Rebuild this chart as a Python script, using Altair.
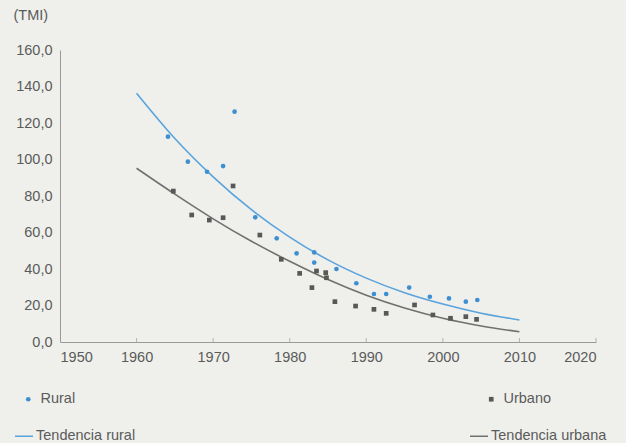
import altair as alt
import pandas as pd

# Tasa de mortalidad infantil (TMI) por área de residencia
rural_year = [1964.1, 1966.7, 1969.2, 1971.3, 1972.8, 1975.5, 1978.3, 1980.9, 1983.2,
              1983.2, 1986.1, 1988.7, 1991.0, 1992.6, 1995.6, 1998.3, 2000.8, 2003.0, 2004.5]
rural_tmi = [112.5, 98.8, 93.3, 96.4, 126.2, 68.3, 56.8, 48.6, 49.1,
             43.5, 40.0, 32.2, 26.3, 26.3, 29.8, 24.8, 23.9, 22.1, 23.0]

urban_year = [1964.8, 1967.2, 1969.5, 1971.3, 1972.6, 1976.1, 1978.9, 1981.3, 1982.9, 1983.5,
              1984.7, 1984.8, 1985.9, 1988.6, 1991.0, 1992.6, 1996.3, 1998.7, 2001.0, 2003.0, 2004.4]
urban_tmi = [82.7, 69.6, 66.8, 68.1, 85.5, 58.6, 45.3, 37.6, 29.8, 38.9,
             38.0, 35.2, 22.1, 19.7, 17.9, 15.7, 20.3, 14.8, 13.0, 13.9, 12.4]

# Curvas de tendencia
trend_year = [1960, 1965, 1970, 1975, 1980, 1985, 1990, 1995, 2000, 2005, 2010]
trend_rural = [136.3, 111.5, 90.5, 72.5, 57.5, 45.0, 35.0, 27.0, 20.8, 15.8, 12.1]
trend_urban = [95.2, 81.0, 67.5, 55.2, 44.2, 34.2, 25.6, 18.6, 13.0, 8.8, 5.6]

x_ticks = [1950, 1960, 1970, 1980, 1990, 2000, 2010, 2020]
y_ticks = [0, 20, 40, 60, 80, 100, 120, 140, 160]

BLUE_PT = "#3d8fd1"
GRAY_PT = "#585858"
BLUE_LN = "#5aa3dc"
GRAY_LN = "#707070"
TEXT = "#5b5b5b"
FONT = "Liberation Sans"

rural = pd.DataFrame({"anio": rural_year, "tmi": rural_tmi, "serie": "Rural"})
urban = pd.DataFrame({"anio": urban_year, "tmi": urban_tmi, "serie": "Urbano"})
trends = pd.DataFrame({
    "anio": trend_year + trend_year,
    "tmi": trend_rural + trend_urban,
    "serie": ["Tendencia rural"] * len(trend_year) + ["Tendencia urbana"] * len(trend_year),
})
ticks = pd.DataFrame({"anio": x_ticks[1:]})

x_scale = alt.Scale(domain=[1950, 2020], nice=False, zero=False)
y_scale = alt.Scale(domain=[0, 160], nice=False)

x_axis = alt.Axis(values=x_ticks, format="d", ticks=False, grid=False, labelPadding=8,
                  labelOverlap=False, domainColor="#9a9a9a", labelColor=TEXT,
                  labelFontSize=14.5, labelFont=FONT, title=None)
y_axis = alt.Axis(values=y_ticks, ticks=False, grid=False, labelPadding=8, labelOverlap=False,
                  labelExpr="replace(format(datum.value, '.1f'), '.', ',')",
                  domainColor="#9a9a9a", labelColor=TEXT, labelFontSize=14.5,
                  labelFont=FONT, title="(TMI)", titleAngle=0, titleAlign="left",
                  titleBaseline="middle", titleX=-47, titleY=-35, titleFontWeight="normal",
                  titleFontSize=14.5, titleColor=TEXT, titleFont=FONT)

X = alt.X("anio:Q", scale=x_scale, axis=x_axis)
Y = alt.Y("tmi:Q", scale=y_scale, axis=y_axis)


def legend_at(x, y, **kw):
    return alt.Legend(orient="none", legendX=x, legendY=y, direction="horizontal",
                      title=None, padding=0, labelFontSize=14.5, labelFontWeight="normal",
                      labelColor=TEXT, labelFont=FONT, **kw)


trend_layer = alt.Chart(trends).mark_line(interpolate="monotone", strokeWidth=1.6).encode(
    x=X,
    y=Y,
    stroke=alt.Stroke(
        "serie:N",
        scale=alt.Scale(domain=["Tendencia rural", "Tendencia urbana"], range=[BLUE_LN, GRAY_LN]),
        legend=legend_at(-46, 376, columns=2, columnPadding=331, symbolType="stroke",
                         symbolSize=324, symbolStrokeWidth=1.5, labelOffset=2),
    ),
)

rural_layer = alt.Chart(rural).mark_point(filled=True, opacity=1, shape="circle", size=22).encode(
    x=X,
    y=Y,
    color=alt.Color(
        "serie:N",
        scale=alt.Scale(domain=["Rural"], range=[BLUE_PT]),
        legend=legend_at(-39, 342, symbolType="circle", symbolSize=22, labelOffset=5),
    ),
)

urban_layer = alt.Chart(urban).mark_point(filled=True, opacity=1, shape="square", size=22).encode(
    x=X,
    y=Y,
    fill=alt.Fill(
        "serie:N",
        scale=alt.Scale(domain=["Urbano"], range=[GRAY_PT]),
        legend=legend_at(424, 342, symbolType="square", symbolSize=22, labelOffset=5),
    ),
)

tick_layer = alt.Chart(ticks).mark_tick(orient="vertical", size=4, thickness=1,
                                        color="#9a9a9a", yOffset=-2).encode(
    x=X,
    y=alt.datum(0, scale=y_scale, axis=y_axis),
)

chart = alt.layer(trend_layer, rural_layer, urban_layer, tick_layer).resolve_scale(
    color="independent", fill="independent", stroke="independent"
).properties(
    width=536,
    height=292,
    autosize=alt.AutoSizeParams(type="none"),
    padding={"left": 60, "top": 50, "right": 30, "bottom": 101},
    background="#eff0eb",
).configure_view(stroke=None)

chart.save("out.html", embed_options={"renderer": "svg", "actions": False})
